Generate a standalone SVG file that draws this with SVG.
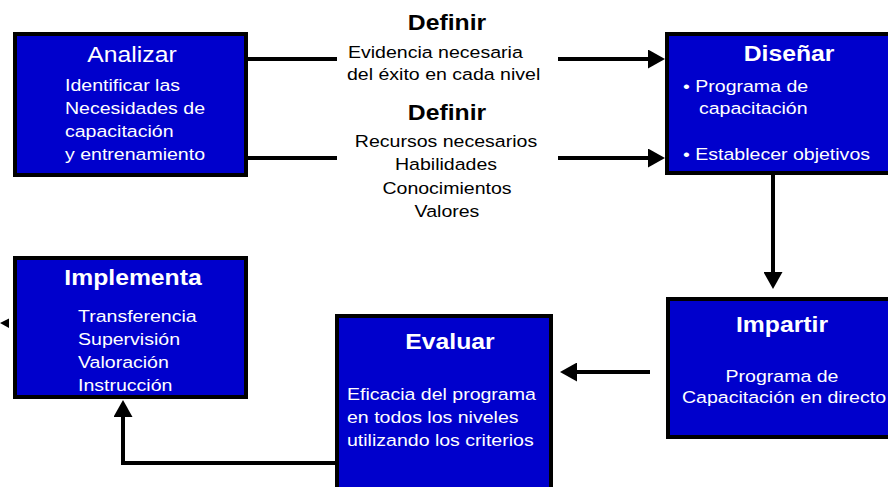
<svg xmlns="http://www.w3.org/2000/svg" width="888" height="487" viewBox="0 0 888 487">
<style>
.box{fill:#0000CC;stroke:#000;stroke-width:4}
text{font-family:"Liberation Sans",Arial,sans-serif}
.t{font-size:21.5px;font-weight:bold;fill:#fff}
.tn{font-size:21.5px;fill:#fff}
.w{font-size:17px;fill:#fff}
.k{font-size:17px;fill:#000}
.kb{font-size:21.5px;font-weight:bold;fill:#000}
.c{text-anchor:middle}
.ln{fill:none;stroke:#000;stroke-width:4}
</style>
<defs>
<marker id="ah" viewBox="0 0 17 19" refX="0" refY="9.5" markerWidth="17" markerHeight="19" markerUnits="userSpaceOnUse" orient="auto">
<path d="M0,0 L17,9.5 L0,19 Z" fill="#000"/>
</marker>
</defs>
<rect width="888" height="487" fill="#fff"/>

<g id="connectors">
<path class="ln" d="M248,59 H337"/>
<path class="ln" d="M558,59 H648" marker-end="url(#ah)"/>
<path class="ln" d="M248,158 H337"/>
<path class="ln" d="M558,158 H648" marker-end="url(#ah)"/>
<path class="ln" d="M773,175 V272" marker-end="url(#ah)"/>
<path class="ln" d="M650,372 H577" marker-end="url(#ah)"/>
<path class="ln" d="M335,463 H123 V417" marker-end="url(#ah)"/>
<polygon points="0,323 9,318.5 9,328" fill="#000"/>
</g>

<g id="labels">
<text class="kb c" transform="translate(447,30) scale(1.15,1)">Definir</text>
<text class="k" transform="translate(348,58) scale(1.15,1)">Evidencia necesaria</text>
<text class="k" transform="translate(347,80) scale(1.15,1)">del éxito en cada nivel</text>
<text class="kb c" transform="translate(447,120) scale(1.15,1)">Definir</text>
<text class="k c" transform="translate(446,147) scale(1.15,1)">Recursos necesarios</text>
<text class="k c" transform="translate(446,170) scale(1.15,1)">Habilidades</text>
<text class="k c" transform="translate(447,194) scale(1.15,1)">Conocimientos</text>
<text class="k c" transform="translate(447,217) scale(1.15,1)">Valores</text>
</g>

<g id="analizar">
<rect class="box" x="15" y="34" width="231" height="141"/>
<text class="tn c" transform="translate(132,62) scale(1.15,1)">Analizar</text>
<text class="w" transform="translate(65,91) scale(1.15,1)">Identificar las</text>
<text class="w" transform="translate(65,114) scale(1.15,1)">Necesidades de</text>
<text class="w" transform="translate(65,137) scale(1.15,1)">capacitación</text>
<text class="w" transform="translate(65,160) scale(1.15,1)">y entrenamiento</text>
</g>

<g id="disenar">
<rect class="box" x="667" y="34" width="240" height="139"/>
<text class="t c" transform="translate(789,61) scale(1.15,1)">Diseñar</text>
<text class="w" transform="translate(683,92) scale(1.15,1)">• Programa de</text>
<text class="w" transform="translate(699,114) scale(1.15,1)">capacitación</text>
<text class="w" transform="translate(683,160) scale(1.15,1)">• Establecer objetivos</text>
</g>

<g id="impartir">
<rect class="box" x="668" y="299" width="240" height="138"/>
<text class="t c" transform="translate(782,332) scale(1.15,1)">Impartir</text>
<text class="w c" transform="translate(782,382) scale(1.15,1)">Programa de</text>
<text class="w c" transform="translate(784,403) scale(1.15,1)">Capacitación en directo</text>
</g>

<g id="evaluar">
<rect class="box" x="337" y="316" width="214" height="190"/>
<text class="t c" transform="translate(450,349) scale(1.15,1)">Evaluar</text>
<text class="w" transform="translate(347,400) scale(1.15,1)">Eficacia del programa</text>
<text class="w" transform="translate(347,423) scale(1.15,1)">en todos los niveles</text>
<text class="w" transform="translate(347,446) scale(1.15,1)">utilizando los criterios</text>
</g>

<g id="implementa">
<rect class="box" x="15" y="258" width="231" height="139"/>
<text class="t c" transform="translate(133,285) scale(1.15,1)">Implementa</text>
<text class="w" transform="translate(78,322) scale(1.15,1)">Transferencia</text>
<text class="w" transform="translate(78,345) scale(1.15,1)">Supervisión</text>
<text class="w" transform="translate(78,368) scale(1.15,1)">Valoración</text>
<text class="w" transform="translate(78,391) scale(1.15,1)">Instrucción</text>
</g>
</svg>
